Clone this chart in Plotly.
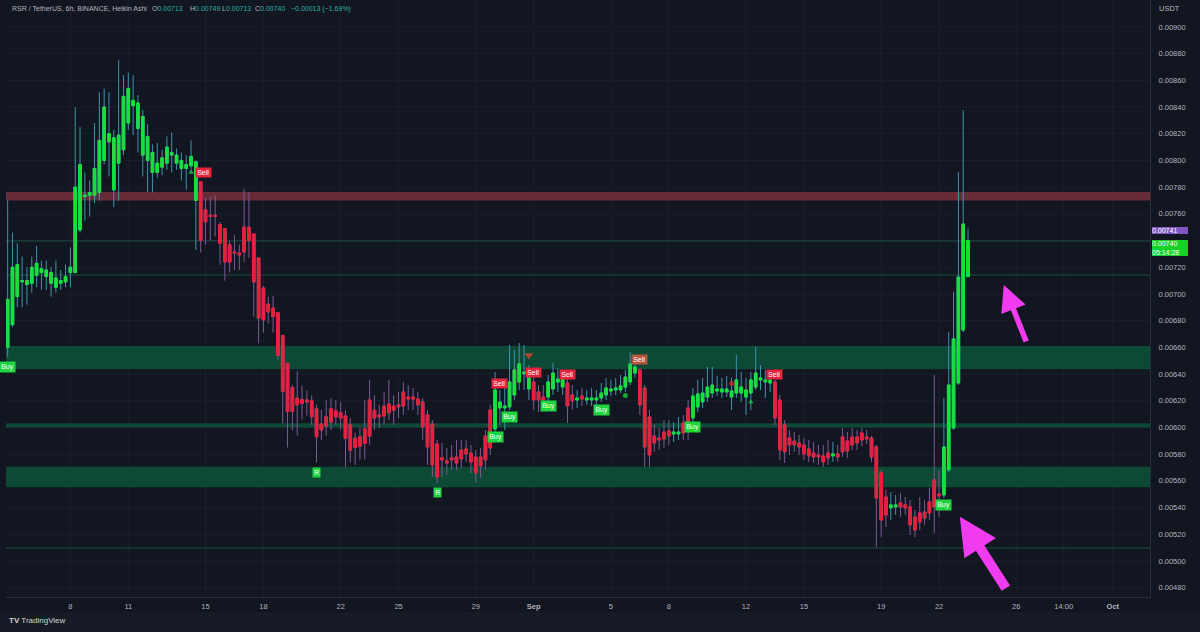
import pandas as pd
import plotly.graph_objects as go

# ---------------- data (prices in units of 0.00001 USDT) ----------------
PRICE_UNIT = 1e-5
START = "2024-08-04 18:00"
FREQ = "6h"

# indicator paint of each Heikin Ashi candle (G = bullish, R = bearish)
paint = ("G" * 40 + "R" * 61 + "G" * 8 + "R" * 3 + "G" * 4 + "R" * 2 + "G" + "R" +
         "G" * 11 + "R" * 7 + "G" * 2 + "R" * 2 + "G" * 17 + "R" * 12 + "G" + "R" * 11 +
         "G" * 2 + "R" * 9 + "G" * 6)

open_ = [660, 677, 698, 709, 707, 708, 714, 716, 713, 708,
         705, 708, 709, 716, 716, 748, 773, 774, 774, 776,
         800, 814, 778, 798, 808, 828, 841, 824, 804, 800,
         791, 791, 795, 798, 804, 798, 794, 794, 796, 770,
         784, 763, 759, 759, 752, 749, 737, 731.5, 730.7, 750,
         750, 745, 727, 704.5, 692.5, 689.5, 686, 669, 648, 630,
         622, 621, 620.6, 620, 614, 602.6, 608, 614, 612.4, 611,
         608.6, 602, 592, 593, 599, 620.6, 613, 609.4, 616, 617.6,
         616, 616.9, 626.6, 622.8, 622.8, 621.3, 619.1, 609.4, 602.6, 587.6,
         577.2, 574.9, 577.2, 577.9, 583.1, 583.9, 580.9, 577.9, 577.9, 593.6,
         613.1, 598.9, 614.6, 614.6, 615.4, 624.3, 634.1, 640.1, 628.8, 634.1,
         626.6, 622.8, 622.8, 628.8, 634.1, 630.3, 633.3, 624.3, 620.6, 623.6,
         620.6, 620.6, 620.6, 622.1, 624.3, 627.3, 628.1, 628.1, 630.3, 634.1,
         640.8, 643.1, 629.6, 607.9, 593.6, 592.1, 596.6, 597.4, 595.1, 595.1,
         603.4, 614.6, 607.1, 615.4, 619.1, 622.8, 625.8, 627.3, 626.6, 626.6,
         622.8, 625.8, 625.8, 622.8, 625.8, 630.3, 635.6, 634.1, 633.3, 634.1,
         620.6, 601.9, 592.1, 589.9, 588.4, 586.9, 583.9, 580.9, 579.4, 578.7,
         580.9, 578.7, 580.2, 592.9, 589.9, 592.9, 592.9, 595.9, 592.9, 592.1,
         585.4, 565.9, 547.9, 539.7, 540.5, 543.5, 542.0, 540.5, 533.0, 536.0,
         536.7, 544.2, 560.7, 550.2, 549.4, 568.2, 599.6, 633.3, 673.0, 713]

high = [770, 746, 738, 728, 720, 728, 736, 725, 725, 720,
        725, 718, 722, 735, 840, 825, 791, 785, 828, 851,
        854, 851, 823, 875, 864, 866, 864, 849, 838, 827,
        812, 813, 808, 818, 821, 809, 806, 804, 815, 800,
        784, 772, 773, 774, 754, 749, 740, 744, 737, 779,
        776, 745, 727, 706, 698, 698.5, 686, 669, 648, 632,
        642, 631, 628, 624, 617, 613, 620.6, 622, 620.6, 619,
        613, 607, 596, 600, 620.6, 635.6, 624, 617, 626.6, 635.6,
        624, 626.6, 634, 631.8, 629.6, 626.6, 622.1, 613.1, 605.6, 590.6,
        588.4, 584.6, 586.9, 590.6, 590.6, 590.6, 586.9, 583.1, 584.6, 598.1,
        616.9, 641.6, 628.1, 629.6, 661.8, 658.0, 663.3, 661.8, 646.8, 639.3,
        631.8, 631.8, 639.3, 648.3, 644.6, 643.1, 637.1, 631.8, 628.1, 629.6,
        628.1, 629.6, 628.1, 633.3, 637.1, 635.6, 637.1, 639.3, 643.1, 656.6,
        652.1, 644.6, 631.8, 613.1, 601.9, 599.6, 605.6, 605.6, 604.1, 607.9,
        609.4, 620.6, 629.6, 635.6, 637.1, 645.3, 645.3, 638.6, 637.1, 638.6,
        637.1, 654.3, 641.6, 637.1, 641.6, 660.3, 646.8, 643.1, 641.6, 635.6,
        624.3, 605.6, 598.1, 596.6, 594.4, 592.1, 590.6, 589.1, 586.9, 586.9,
        590.6, 589.1, 586.9, 599.6, 596.6, 599.6, 598.1, 599.6, 598.1, 593.6,
        586.9, 568.2, 553.2, 551.7, 549.4, 550.9, 547.9, 545.7, 538.2, 547.9,
        545.7, 554.7, 639.3, 568.2, 622.1, 671.5, 701.5, 791.4, 837.8, 749]

low = [653, 675, 690, 690, 692, 701, 705, 703, 703, 698,
       701, 703, 705, 705, 716, 746, 755, 758, 768, 770,
       797, 788, 765, 770, 804, 823, 819, 806, 788, 776,
       776, 787, 789, 793, 791, 793, 785, 778, 791, 733,
       731, 737, 740, 743, 722, 710, 716, 718, 718, 724,
       727, 683, 663, 671, 678, 671, 651, 603, 585, 598,
       594, 606, 609, 602, 574, 590.6, 594, 598, 601.9, 598,
       570, 574, 572, 576, 576, 587, 598, 599.6, 602, 605.6,
       602, 607, 609.4, 613, 613, 609.4, 590.6, 571.9, 562.9, 558.4,
       562.9, 564.4, 568.2, 568.2, 569.7, 574.2, 565.9, 558.4, 562.2, 568.2,
       579.4, 592.9, 601.9, 598.1, 613.1, 620.6, 628.1, 628.1, 620.6, 613.1,
       611.6, 613.1, 616.9, 624.3, 626.6, 624.3, 603.4, 613.1, 614.6, 616.1,
       616.9, 616.1, 616.1, 619.1, 620.6, 623.6, 624.3, 625.8, 626.6, 631.8,
       637.1, 609.4, 570.4, 570.4, 581.7, 583.1, 584.6, 586.9, 589.1, 590.6,
       590.6, 590.6, 601.9, 611.6, 614.6, 619.1, 622.1, 623.6, 622.1, 622.8,
       613.1, 622.1, 619.1, 609.4, 613.1, 628.1, 628.1, 622.1, 626.6, 601.9,
       575.7, 573.4, 579.4, 581.7, 579.4, 575.7, 574.2, 573.4, 571.9, 570.4,
       571.9, 574.2, 574.2, 577.9, 577.2, 583.1, 583.1, 586.1, 587.6, 574.2,
       510.5, 518.0, 525.5, 530.7, 534.5, 533.0, 534.5, 519.5, 518.0, 523.2,
       527.0, 530.7, 521.0, 533.0, 547.2, 566.7, 598.1, 631.8, 671.5, 713]

close = [696, 720, 722, 710, 710, 720, 723, 719, 718, 716,
         712, 710, 713, 720, 780, 797, 774, 776, 794, 815,
         840, 820, 817, 819, 848, 854, 845, 843, 833, 818,
         806, 798, 802, 810, 806, 804, 800, 797, 803, 799,
         740, 754, 758, 758, 738, 724, 724, 730.7, 729.2, 731.5,
         740, 709, 682, 680.5, 686.5, 683, 654, 627, 612, 612,
         617, 618, 619.1, 608, 593, 598.1, 601, 604, 607.9, 607,
         592, 583, 585, 586, 588, 593.6, 607, 607.9, 608.6, 610.9,
         613, 615.4, 616.1, 621.3, 621.3, 616.9, 600.4, 585.4, 571.9, 562.9,
         575.7, 573.4, 575.7, 573.4, 576.4, 580.2, 574.2, 565.9, 571.2, 575.7,
         584.6, 628.1, 619.1, 616.1, 634.1, 643.1, 647.6, 641.6, 640.8, 620.6,
         620.6, 620.6, 634.1, 640.8, 636.3, 637.1, 616.1, 619.9, 622.1, 621.3,
         622.1, 622.1, 622.1, 625.8, 629.6, 628.8, 629.6, 631.1, 637.8, 647.6,
         645.3, 616.9, 585.4, 579.4, 588.4, 590.6, 591.4, 593.6, 596.6, 596.6,
         595.9, 598.1, 623.6, 625.1, 625.8, 630.3, 631.8, 628.8, 628.8, 628.8,
         627.3, 635.6, 630.3, 628.1, 635.6, 640.8, 637.1, 635.6, 635.6, 607.1,
         583.1, 581.7, 586.9, 586.9, 585.4, 580.2, 578.7, 577.9, 577.9, 574.2,
         577.2, 580.2, 577.9, 581.7, 582.4, 586.9, 588.4, 590.6, 591.4, 577.9,
         547.2, 530.7, 534.5, 542.0, 542.0, 540.5, 539.7, 527.0, 523.2, 529.2,
         532.2, 536.0, 540.5, 548.7, 585.4, 631.8, 666.3, 712.7, 752.4, 740]

# support / resistance zones (low, high) and single level lines
zone_lo = [770, 643.6, 599.9, 555.2]
zone_hi = [776.4, 661.0, 603.2, 570.6]
zone_kind = ["res", "sup", "sup", "sup"]
level_lines = [739.7, 714.2, 509.7]

# indicator labels (candle index, price, text, kind)
sig_idx = [0, 40, 64, 89, 101, 102, 104, 109, 112, 116, 123, 131, 142, 159, 194]
sig_price = [645, 791, 566, 551, 593, 633, 608, 641, 616, 640, 613, 651, 600, 640, 542]
sig_text = ["Buy", "Sell", "R", "R", "Buy", "Sell", "Buy", "Sell", "Buy", "Sell",
            "Buy", "Sell", "Buy", "Sell", "Buy"]
sig_kind = ["buy", "sell", "buy", "buy", "buy", "sell", "buy", "sell", "buy", "sell",
            "buy", "weak", "buy", "sell", "buy"]

# small indicator markers
mk_idx = [38, 108, 128, 150, 154]
mk_price = [791, 654, 624, 633, 619]
mk_kind = ["up", "down", "dot_up", "dot_down", "up"]

# header / price-scale text
header_title = "RSR / TetherUS, 6h, BINANCE, Heikin Ashi"
hdr_o, hdr_h, hdr_l, hdr_c = "0.00713", "0.00749", "0.00713", "0.00740"
hdr_chg = "\u22120.00013 (\u22121.69%)"
last_price_a = 741
last_price_b = 740
countdown = "05:14:28"

price_ticks = [480, 500, 520, 540, 560, 580, 600, 620, 640, 660, 680, 700,
               720, 740, 760, 780, 800, 820, 840, 860, 880, 900]
tick_dates = ["2024-08-08", "2024-08-11", "2024-08-15", "2024-08-18", "2024-08-22",
              "2024-08-25", "2024-08-29", "2024-09-01", "2024-09-05", "2024-09-08",
              "2024-09-12", "2024-09-15", "2024-09-19", "2024-09-22", "2024-09-26",
              "2024-09-28 11:00", "2024-10-01"]
tick_text = ["8", "11", "15", "18", "22", "25", "29", "<b>Sep</b>", "5", "8", "12", "15",
             "19", "22", "26", "14:00", "<b>Oct</b>"]

# ---------------- styling ----------------
BG = "#121620"
GRID = "#1b1f2b"
TXT = "#b2b5be"
FONT = "Liberation Sans"
GREEN = "#17e03c"
RED = "#e6213d"
GREEN_WICK = "#3f93ad"
RED_WICK = "#7c5a98"
MAGENTA = "#f03cee"

times = pd.date_range(START, periods=len(open_), freq=FREQ)
P = lambda v: v * PRICE_UNIT

fig = go.Figure()

for colour_key, body_col, wick_col in (("G", GREEN, GREEN_WICK), ("R", RED, RED_WICK)):
    idx = [i for i, p in enumerate(paint) if p == colour_key]
    x = [times[i] for i in idx]
    o = [P(open_[i]) for i in idx]
    h = [P(high[i]) for i in idx]
    l = [P(low[i]) for i in idx]
    c = [P(close[i]) for i in idx]
    # wicks
    fig.add_trace(go.Candlestick(
        x=x, open=o, high=h, low=l, close=c, whiskerwidth=0,
        increasing=dict(line=dict(color=wick_col, width=1), fillcolor=wick_col),
        decreasing=dict(line=dict(color=wick_col, width=1), fillcolor=wick_col),
        showlegend=False, hoverinfo="skip"))
    # bodies
    fig.add_trace(go.Candlestick(
        x=x, open=o, close=c,
        high=[max(a, b) for a, b in zip(o, c)], low=[min(a, b) for a, b in zip(o, c)],
        whiskerwidth=0,
        increasing=dict(line=dict(color=body_col, width=1), fillcolor=body_col),
        decreasing=dict(line=dict(color=body_col, width=1), fillcolor=body_col),
        showlegend=False, hoverinfo="skip"))

# markers
mk_style = {"up": ("triangle-up", GREEN, 5), "down": ("triangle-down", "#e8472c", 8),
            "dot_up": ("circle", GREEN, 5), "dot_down": ("circle", "#ee1c2c", 5)}
fig.add_trace(go.Scatter(
    x=[times[i] for i in mk_idx], y=[P(v) for v in mk_price], mode="markers",
    marker=dict(symbol=[mk_style[k][0] for k in mk_kind],
                color=[mk_style[k][1] for k in mk_kind],
                size=[mk_style[k][2] for k in mk_kind], line=dict(width=0)),
    showlegend=False, hoverinfo="skip"))

shapes = []
# grid (drawn as shapes so that the zones cover it)
for t in tick_dates:
    shapes.append(dict(type="line", xref="x", yref="paper", x0=t, x1=t, y0=0, y1=1,
                       line=dict(color=GRID, width=1), layer="below"))
for pt in price_ticks:
    shapes.append(dict(type="line", xref="paper", yref="y", x0=0, x1=1, y0=P(pt), y1=P(pt),
                       line=dict(color=GRID, width=1), layer="below"))
for lo, hi, kind in zip(zone_lo, zone_hi, zone_kind):
    shapes.append(dict(type="rect", xref="paper", yref="y", x0=0, x1=1, y0=P(lo), y1=P(hi),
                       fillcolor="#672b37" if kind == "res" else "#0c4a35",
                       line=dict(width=0), layer="below"))
for lv in level_lines:
    shapes.append(dict(type="line", xref="paper", yref="y", x0=0, x1=1, y0=P(lv), y1=P(lv),
                       line=dict(color="#1c5040", width=1), layer="below"))
# footer strip
shapes.append(dict(type="rect", xref="paper", yref="paper", x0=-0.01, x1=1.05,
                   y0=-0.07, y1=-0.0255, fillcolor="#171b25", line=dict(width=0), layer="below"))

annotations = []
sig_bg = {"buy": "#1ed43f", "sell": "#e3243c", "weak": "#b4553c"}
for i, pr, t, k in zip(sig_idx, sig_price, sig_text, sig_kind):
    annotations.append(dict(x=times[i], y=P(pr), xref="x", yref="y", text=t, showarrow=False,
                            font=dict(family=FONT, size=7, color="#ffffff"),
                            bgcolor=sig_bg[k], borderpad=1.2,
                            xshift=3 if t == "Sell" and i == 40 else 0))

# magenta arrows
annotations.append(dict(x="2024-09-25 08:30", y=0.007067, xref="x", yref="y", text="",
                        showarrow=True, arrowhead=2, arrowcolor=MAGENTA, arrowwidth=5.5,
                        arrowsize=0.95, ax=23, ay=58, standoff=0))
annotations.append(dict(x="2024-09-23 01:50", y=0.005332, xref="x", yref="y", text="",
                        showarrow=True, arrowhead=2, arrowcolor=MAGENTA, arrowwidth=10,
                        arrowsize=0.75, ax=47, ay=73, standoff=0))

# header
def px2paper(px):
    return (px - 6) / 1144

hy = 1 - 9 / 597
annotations.append(dict(x=px2paper(10), y=hy, xref="paper", yref="paper", xanchor="left",
                        yanchor="middle", showarrow=False, text=header_title,
                        font=dict(family=FONT, size=7, color=TXT)))
VAL = "#2bb3a7"
for px, letter, val in ((150, "O", hdr_o), (188, "H", hdr_h), (220, "L", hdr_l), (253, "C", hdr_c)):
    annotations.append(dict(x=px2paper(px), y=hy, xref="paper", yref="paper", xanchor="left",
                            yanchor="middle", showarrow=False,
                            text=f"{letter}<span style='color:{VAL}'>{val}</span>",
                            font=dict(family=FONT, size=7, color=TXT)))
annotations.append(dict(x=px2paper(289), y=hy, xref="paper", yref="paper", xanchor="left",
                        yanchor="middle", showarrow=False, text=hdr_chg,
                        font=dict(family=FONT, size=7, color=VAL)))

# price scale extras
annotations.append(dict(x=px2paper(1157), y=1 - 8 / 597, xref="paper", yref="paper",
                        xanchor="left", yanchor="middle", showarrow=False, text="USDT",
                        font=dict(family=FONT, size=7.5, color=TXT)))
annotations.append(dict(x=px2paper(1152), y=P(last_price_a), xref="paper", yref="y",
                        xanchor="left", yanchor="middle", yshift=9, showarrow=False,
                        text=f"{P(last_price_a):.5f}", width=36, align="left",
                        font=dict(family=FONT, size=7, color="#ffffff"),
                        bgcolor="#7e57c2", borderpad=0, borderwidth=0))
annotations.append(dict(x=px2paper(1152), y=P(last_price_b), xref="paper", yref="y",
                        xanchor="left", yanchor="middle", yshift=-7, showarrow=False,
                        text=f"{P(last_price_b):.5f}<br>{countdown}", width=36, align="left",
                        font=dict(family=FONT, size=7, color="#ffffff"),
                        bgcolor="#13d424", borderpad=0, borderwidth=0))

# TradingView footer
annotations.append(dict(x=px2paper(7), y=(597 - 620) / 597, xref="paper", yref="paper",
                        xanchor="left", yanchor="middle", showarrow=False,
                        text="<b>TV</b> TradingView",
                        font=dict(family=FONT, size=8, color="#d1d4dc")))

# price-scale tick labels: the one hidden behind the last-price badges is left blank
price_tick_text = ["" if abs(v - last_price_b) < 5 else f"{P(v):.5f}" for v in price_ticks]

fig.update_layout(
    width=1200, height=632,
    margin=dict(l=6, r=50, t=0, b=35),
    paper_bgcolor=BG, plot_bgcolor=BG,
    boxgap=0.22,
    showlegend=False,
    shapes=shapes, annotations=annotations,
    xaxis=dict(type="date", range=["2024-08-04 15:57", "2024-10-02 22:15"],
               rangeslider=dict(visible=False),
               tickvals=tick_dates, ticktext=tick_text,
               tickfont=dict(family=FONT, size=7.5, color=TXT),
               showgrid=False, zeroline=False,
               showline=True, linecolor="#2a2e39", ticks="", ticklabelstandoff=2),
    yaxis=dict(side="right", range=[0.004730, 0.009202],
               tickvals=[P(v) for v in price_ticks], ticktext=price_tick_text,
               tickfont=dict(family=FONT, size=7.5, color=TXT),
               showgrid=False, zeroline=False,
               showline=True, linecolor="#2a2e39", ticks="", ticklabelstandoff=6),
)

fig.write_html("out.html", config={"displayModeBar": False},
               post_script="document.body.style.margin='0px';document.body.style.padding='0px';")
